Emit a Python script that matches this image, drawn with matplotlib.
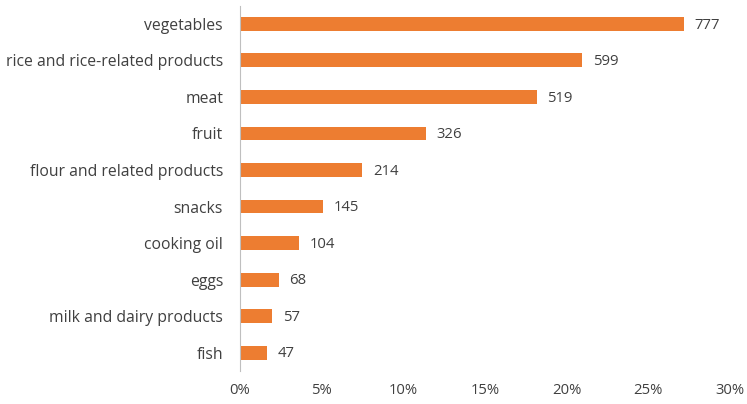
import matplotlib.pyplot as plt
from matplotlib.ticker import FuncFormatter

# ── Data ──────────────────────────────────────────────────────────────────────
categories = [
    "vegetables",
    "rice and rice-related products",
    "meat",
    "fruit",
    "flour and related products",
    "snacks",
    "cooking oil",
    "eggs",
    "milk and dairy products",
    "fish",
]
counts = [777, 599, 519, 326, 214, 145, 104, 68, 57, 47]
x_ticks = [0, 0.05, 0.10, 0.15, 0.20, 0.25, 0.30]

total = sum(counts)
shares = [c / total for c in counts]

C_BAR = "#ED7D31"
C_TXT = "#404040"
C_AX = "#BFBFBF"
plt.rcParams["font.family"] = ["Open Sans", "DejaVu Sans"]

fig = plt.figure(figsize=(7.47, 4.04), dpi=100)
ax = fig.add_axes([0.321, 0.082, 0.656, 0.904])

ypos = list(range(len(categories)))[::-1]
ax.barh(ypos, shares, height=0.38, color=C_BAR, zorder=2)
for y, s, c in zip(ypos, shares, counts):
    ax.text(s + 0.0065, y - 0.03, str(c), va="center", ha="left", fontsize=10.7, color=C_TXT)

ax.set_yticks(ypos)
ax.set_yticklabels(categories, fontsize=11.3, color=C_TXT)
ax.set_ylim(-0.5, len(categories) - 0.5)
ax.set_xlim(0, 0.30)
ax.set_xticks(x_ticks)
ax.xaxis.set_major_formatter(FuncFormatter(lambda v, _: f"{v * 100:.0f}%"))
ax.tick_params(axis="x", labelsize=10.7, labelcolor=C_TXT, length=0, pad=9)
ax.tick_params(axis="y", length=0, pad=12)

for side in ["top", "right", "bottom"]:
    ax.spines[side].set_visible(False)
ax.spines["left"].set_color(C_AX)
ax.spines["left"].set_linewidth(0.8)

fig.savefig("out.png", dpi=100, facecolor="white")
